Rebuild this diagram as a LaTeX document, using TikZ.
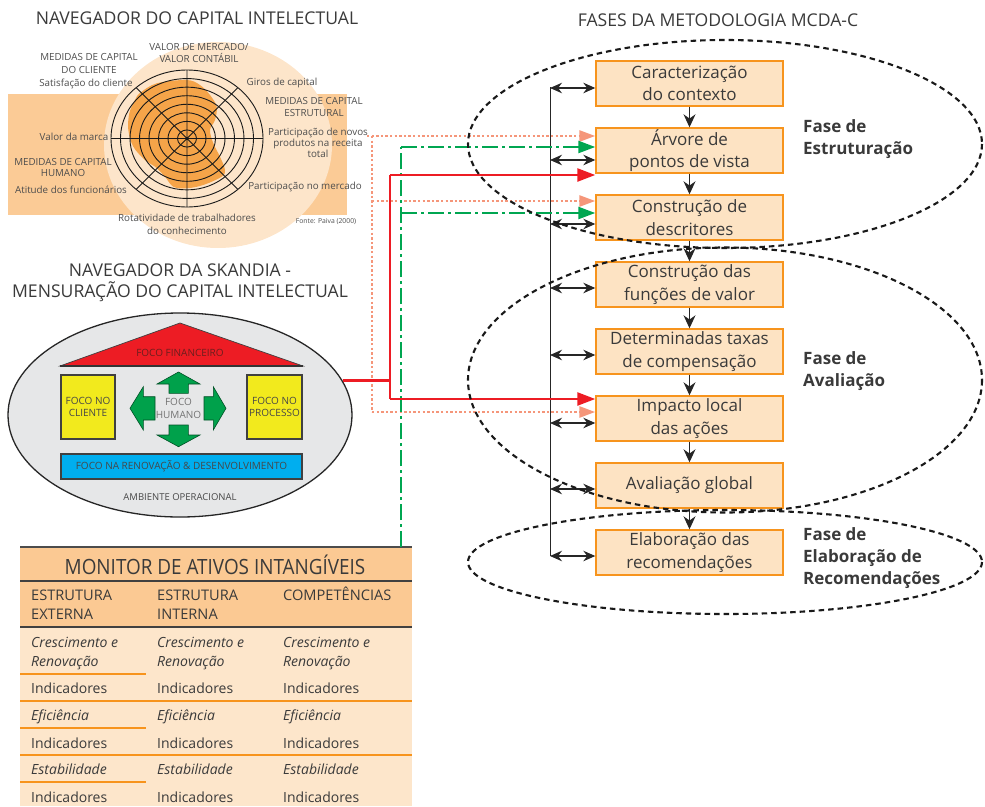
\documentclass[tikz,border=0pt]{standalone}
\usepackage{fontspec}
\setmainfont{Open Sans}
\usetikzlibrary{arrows.meta,shapes.geometric}
\definecolor{txt}{HTML}{3A3A3A}
\definecolor{lbltxt}{HTML}{4D4D4D}
\definecolor{boxfill}{HTML}{FDE3C3}
\definecolor{orgb}{HTML}{F7941D}
\definecolor{rectpeach}{HTML}{FBCB96}
\definecolor{circpeach}{HTML}{FDE5CA}
\definecolor{blob}{HTML}{F5A449}
\definecolor{skgray}{HTML}{E6E7E8}
\definecolor{skred}{HTML}{ED1C24}
\definecolor{skredtxt}{HTML}{6B1E1E}
\definecolor{skyel}{HTML}{F2EA1D}
\definecolor{skgreen}{HTML}{00A14B}
\definecolor{skblue}{HTML}{00AEEF}
\definecolor{salmon}{HTML}{F5967A}
\definecolor{lgreen}{HTML}{00A651}
\definecolor{lred}{HTML}{ED1C24}
\definecolor{hdr}{HTML}{FBC993}
\definecolor{rowfill}{HTML}{FDE6CB}
\begin{document}
\begin{tikzpicture}[x=1pt,y=-1pt,
  title/.style={font=\fontsize{17.6}{21}\selectfont, text=txt, align=center, inner sep=0pt},
  lbl/.style={font=\fontsize{9.8}{12.6}\selectfont, text=lbltxt, align=center, inner sep=0pt},
  sklbl/.style={font=\fontsize{10}{12.5}\selectfont, text=black!72, align=center, inner sep=0pt},
  mcda/.style={draw=orgb, line width=1.4pt, fill=boxfill, minimum width=187pt, minimum height=45pt, inner sep=0pt, font=\fontsize{17}{22.5}\selectfont, text=txt, align=center},
  phase/.style={font=\bfseries\fontsize{17}{22}\selectfont, text=txt, align=left, anchor=west, inner sep=0pt},
  cell/.style={font=\fontsize{14}{17}\selectfont, text=txt, anchor=base west, inner sep=0pt},
  icell/.style={cell, font=\itshape\fontsize{14}{17}\selectfont},
  hcell/.style={cell, font=\fontsize{14.6}{17}\selectfont},
  down/.style={-{Stealth[length=13pt,width=12pt]}, line width=1.1pt, draw=black!85},
  dbl/.style={{Stealth[length=12pt,width=10.5pt]}-{Stealth[length=12pt,width=10.5pt]}, line width=1.2pt, draw=black!85},
  phaseell/.style={draw=black!90, line width=2.1pt, dash pattern=on 5.5pt off 4pt},
  salm/.style={draw=salmon, line width=2.6pt, dash pattern=on 2.4pt off 2.2pt},
  salmarr/.style={salm, -{Triangle[length=16pt,width=11pt]}},
  grn/.style={draw=lgreen, line width=2.4pt, dash pattern=on 16pt off 4pt on 3pt off 4pt},
  grnarr/.style={grn, -{Triangle[length=17pt,width=12pt]}},
  rd/.style={draw=lred, line width=2.5pt},
  rdarr/.style={rd, -{Triangle[length=18pt,width=13pt]}},
  skbox/.style={draw=black!75, line width=1.1pt, sklbl}
]
\useasboundingbox (0,0) rectangle (985,806);

% ---------------- Navegador do capital intelectual
\node[title] (tnav) at (197,18) {NAVEGADOR DO CAPITAL INTELECTUAL};
\fill[rectpeach] (8,94) rectangle (347,215);
\fill[circpeach] (218,145) ellipse [x radius=114, y radius=103];
\fill[blob] plot[smooth cycle, tension=0.55] coordinates {(140,93) (156.7,83.3) (186.7,80) (200,85) (210,95) (216.7,106.7) (215,120) (210,130) (213.3,143.3) (220,156.7) (225,170) (221.7,176.7) (203.3,185) (186.7,188.3) (173.3,186.7) (165,176.7) (155,166.7) (145,160) (133.3,146.7) (128.3,130) (129.3,113.3) (135,100)};
\foreach \k in {1,...,8}{\draw[line width=0.9pt, black!90] (187,138.5) ellipse [x radius={9.5*\k}, y radius={8.5625*\k}];}
\draw[line width=0.9pt, black!90] (111,138.5) -- (263,138.5) (187,70) -- (187,207) (136.1,87.6) -- (237.9,189.4) (136.1,189.4) -- (237.9,87.6);

\node[lbl] (vm1) at (199,53) {VALOR DE MERCADO/\\VALOR CONTÁBIL};
\node[lbl] (mc1) at (89,63.5) {MEDIDAS DE CAPITAL\\DO CLIENTE};
\node[lbl] (sc) at (86,83.5) {Satisfação do cliente};
\node[lbl] (gc) at (282,83) {Giros de capital};
\node[lbl] (me) at (314,107) {MEDIDAS DE CAPITAL\\ESTRUTURAL};
\node[lbl, font=\fontsize{9.8}{11.3}\selectfont] (pn) at (318,143) {Participação de novos\\produtos na receita\\total};
\node[lbl] (vmar) at (74,137) {Valor da marca};
\node[lbl, font=\fontsize{9.8}{11.6}\selectfont] (mh) at (63,167.5) {MEDIDAS DE CAPITAL\\HUMANO};
\node[lbl] (af) at (71,190) {Atitude dos funcionários};
\node[lbl] (pm) at (305,187) {Participação no mercado};
\node[lbl] (rt) at (187,224.5) {Rotatividade de trabalhadores\\do conhecimento};
\node[lbl, font=\fontsize{6.8}{8}\selectfont] (fp) at (326,222) {Fonte: Paiva (2000)};

% ---------------- Skandia
\node[title] (tsk) at (180,283) {NAVEGADOR DA SKANDIA -\\MENSURAÇÃO DO CAPITAL INTELECTUAL};
\node[ellipse, draw=black!85, line width=1.3pt, fill=skgray, minimum width=344pt, minimum height=204pt, inner sep=0pt] (sk) at (180,415) {};
\draw[fill=skred, draw=black!75, line width=0.7pt] (60,366) -- (180,323) -- (303,366) -- cycle;
\draw[black!80, line width=1.2pt] (60,366) -- (303,366);
\node[sklbl, text=skredtxt] (ff) at (180,353) {FOCO FINANCEIRO};
\node[skbox, fill=skyel, minimum width=54pt, minimum height=64pt] (fc) at (88,407) {FOCO NO\\CLIENTE};
\node[skbox, fill=skyel, minimum width=55pt, minimum height=64pt] (fpr) at (274.5,407) {FOCO NO\\PROCESSO};
\begin{scope}[fill=skgreen, draw=black!50!skgreen, line width=0.6pt]
 \filldraw (178.5,372) -- (200,384) -- (188.3,384) -- (188.3,393.3) -- (169,393.3) -- (169,384) -- (157,384) -- cycle;
 \filldraw (178.5,446.7) -- (200,435) -- (188.3,435) -- (188.3,425) -- (169,425) -- (169,435) -- (157,435) -- cycle;
 \filldraw (130,408.3) -- (143.3,386.7) -- (143.3,396.7) -- (155,396.7) -- (155,420) -- (143.3,420) -- (143.3,430) -- cycle;
 \filldraw (226,408.3) -- (213.3,386.7) -- (213.3,396.7) -- (204,396.7) -- (204,420) -- (213.3,420) -- (213.3,430) -- cycle;
\end{scope}
\node[sklbl, text=black!55] (fh) at (178.5,408.5) {FOCO\\HUMANO};
\node[skbox, fill=skblue, minimum width=241pt, minimum height=25pt] (fr) at (181.5,466.5) {FOCO NA RENOVAÇÃO \& DESENVOLVIMENTO};
\node[sklbl, font=\fontsize{9.5}{12}\selectfont] (ao) at (180,497) {AMBIENTE OPERACIONAL};

% ---------------- Monitor
\fill[hdr] (20,547) rectangle (412,627);
\fill[rowfill] (20,627) rectangle (412,806);
\draw[black!70, line width=2pt] (20,547) -- (412,547);
\draw[black!75, line width=1.3pt] (20,581) -- (412,581) (20,627) -- (412,627);
\draw[orgb, line width=1.2pt] (20,674) -- (146,674) (20,728) -- (146,728) (20,782) -- (146,782) (20,701) -- (412,701) (20,755) -- (412,755);
\node[inner sep=0pt, text=txt] (mt) at (215,564.5) {\scalebox{0.9}[1]{\fontsize{21}{24}\selectfont MONITOR DE ATIVOS INTANGÍVEIS}};
\node[hcell] (h11) at (31,600) {ESTRUTURA};
\node[hcell] (h12) at (31,619) {EXTERNA};
\node[hcell] (h21) at (157,600) {ESTRUTURA};
\node[hcell] (h22) at (157,619) {INTERNA};
\node[hcell] (h31) at (283,600) {COMPETÊNCIAS};
\foreach \c/\xx in {a/31,b/157,c/283}{
  \node[icell] (cr\c) at (\xx,647) {Crescimento e};
  \node[icell] (rn\c) at (\xx,666) {Renovação};
  \node[cell] (i1\c) at (\xx,693) {Indicadores};
  \node[icell] (ef\c) at (\xx,720) {Eficiência};
  \node[cell] (i2\c) at (\xx,748) {Indicadores};
  \node[icell] (es\c) at (\xx,774) {Estabilidade};
  \node[cell] (i3\c) at (\xx,802) {Indicadores};
}

% ---------------- MCDA-C
\node[title] (tf) at (718,20) {FASES DA METODOLOGIA MCDA-C};
\node[mcda] (b1) at (689.5,83.5) {Caracterização\\do contexto};
\node[mcda] (b2) at (689.5,150.5) {Árvore de\\pontos de vista};
\node[mcda] (b3) at (689.5,217.5) {Construção de\\descritores};
\node[mcda] (b4) at (689.5,284.5) {Construção das\\funções de valor};
\node[mcda] (b5) at (689.5,351.5) {Determinadas taxas\\de compensação};
\node[mcda] (b6) at (689.5,418.5) {Impacto local\\das ações};
\node[mcda] (b7) at (689.5,485.5) {Avaliação global};
\node[mcda] (b8) at (689.5,552.5) {Elaboração das\\recomendações};
\foreach \a/\b in {b1/b2,b2/b3,b3/b4,b4/b5,b5/b6,b6/b7,b7/b8}{\draw[down] (\a) -- (\b);}

\coordinate (vt) at (550,87);
\coordinate (vb) at (550,556);
\draw[black!85, line width=1pt] (vt) -- (vb);
\draw[dbl] (550,88) -- (b1.west |- 0,88);
\draw[dbl] (550,160) -- (b2.west |- 0,160);
\draw[dbl] (550,224) -- (b3.west |- 0,224);
\draw[dbl] (550,288) -- (b4.west |- 0,288);
\draw[dbl] (550,355) -- (b5.west |- 0,355);
\draw[dbl] (550,423) -- (b6.west |- 0,423);
\draw[dbl] (550,489) -- (b7.west |- 0,489);
\draw[dbl] (550,556) -- (b8.west |- 0,556);

\node[phase] (f1) at (803,139) {Fase de\\Estruturação};
\node[phase] (f2) at (803,371) {Fase de\\Avaliação};
\node[phase] (f3) at (803,558) {Fase de\\Elaboração de\\Recomendações};

% ---------------- connectors
\coordinate (s0) at (367,136);
\draw[salm] (372,136) -- (372,412);
\draw[salmarr] (s0) -- (b2.west |- 0,136);
\draw[salmarr] (372,201) -- (b3.west |- 0,201);
\draw[salmarr] (372,412) -- (b6.west |- 0,412);

\coordinate (g0) at (401,547);
\draw[grn] (g0) -- (401,147);
\draw[grnarr] (401,147) -- (b2.west |- 0,147);
\draw[grnarr] (401,213) -- (b3.west |- 0,213);

\coordinate (rs) at (sk.12);
\draw[rd] (rs) -- (rs -| 390,0);
\draw[rd] (390,175) -- (390,399);
\draw[rdarr] (390,175) -- (b2.west |- 0,175);
\draw[rdarr] (390,399) -- (b6.west |- 0,399);

% ---------------- phase ellipses
\draw[phaseell] (725,144) ellipse [x radius=257, y radius=104];
\draw[phaseell] (725,380) ellipse [x radius=257, y radius=132.5];
\draw[phaseell] (725,562) ellipse [x radius=257, y radius=52];
\end{tikzpicture}
\end{document}
